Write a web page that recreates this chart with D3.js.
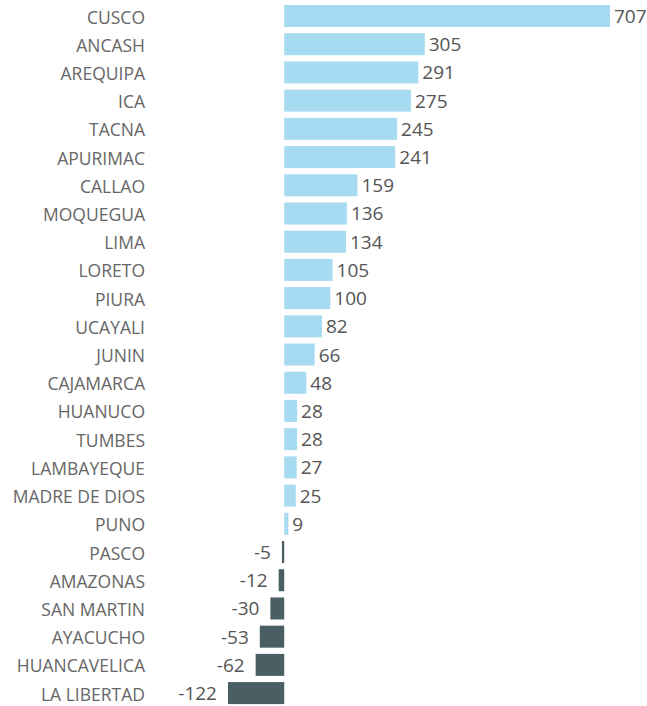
<!DOCTYPE html>
<html>
<head>
<meta charset="utf-8">
<script src="https://cdn.jsdelivr.net/npm/d3@7"></script>
<style>
  body { margin: 0; background: #fff; }
  svg text { font-family: "Open Sans", sans-serif; }
</style>
</head>
<body>
<svg id="chart" width="647" height="706"></svg>
<script>
const regions = ["CUSCO", "ANCASH", "AREQUIPA", "ICA", "TACNA", "APURIMAC", "CALLAO", "MOQUEGUA",
    "LIMA", "LORETO", "PIURA", "UCAYALI", "JUNIN", "CAJAMARCA", "HUANUCO", "TUMBES",
    "LAMBAYEQUE", "MADRE DE DIOS", "PUNO", "PASCO", "AMAZONAS", "SAN MARTIN", "AYACUCHO",
    "HUANCAVELICA", "LA LIBERTAD"]
const values = [707, 305, 291, 275, 245, 241, 159, 136, 134, 105, 100, 82, 66, 48, 28, 28,
    27, 25, 9, -5, -12, -30, -53, -62, -122]

const data = regions.map((r, i) => ({region: r, value: values[i]}))

const svg = d3.select("#chart")

const x = d3.scaleLinear()
    .domain([d3.min(values), d3.max(values)])
    .range([228, 610])

const y = d3.scaleBand()
    .domain(regions)
    .range([1.9, 707.2])
    .paddingInner(0.22)
    .paddingOuter(0.11)

const mid = d => y(d.region) + y.bandwidth() / 2

// bars
svg.append("g")
    .selectAll("rect")
    .data(data)
    .join("rect")
    .attr("x", d => x(Math.min(0, d.value)))
    .attr("y", d => y(d.region))
    .attr("width", d => Math.abs(x(d.value) - x(0)))
    .attr("height", y.bandwidth())
    .attr("fill", d => d.value < 0 ? "#4a5f64" : "#a7dbf1")

// category labels
svg.append("g")
    .selectAll("text")
    .data(data)
    .join("text")
    .attr("x", 145)
    .attr("y", d => mid(d) + 7.5)
    .attr("text-anchor", "end")
    .attr("font-size", 17.5)
    .attr("fill", "#666")
    .text(d => d.region)

// value labels
svg.append("g")
    .selectAll("text")
    .data(data)
    .join("text")
    .attr("x", d => d.value < 0 ? x(d.value) - 11 : x(d.value) + 4)
    .attr("y", d => mid(d) + 7)
    .attr("text-anchor", d => d.value < 0 ? "end" : "start")
    .attr("font-size", 19)
    .attr("fill", "#555")
    .text(d => d.value)
</script>
</body>
</html>
